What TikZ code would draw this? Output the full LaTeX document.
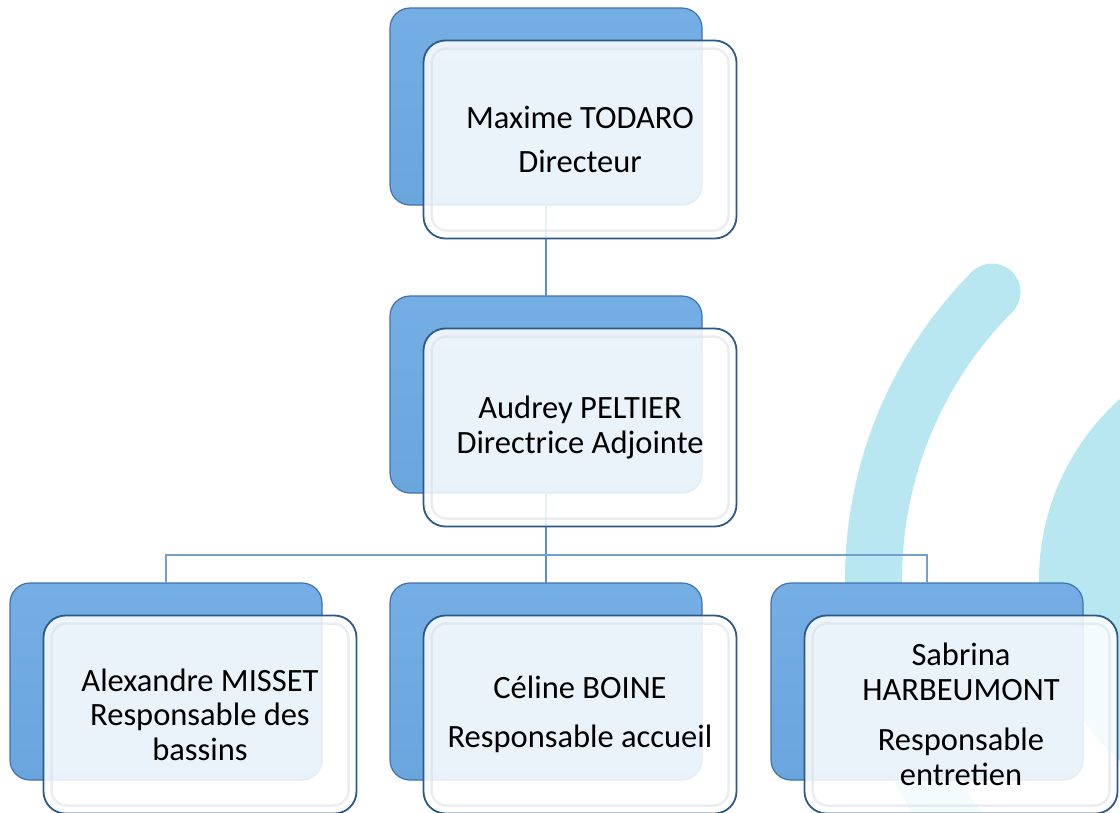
\documentclass[tikz,border=0pt]{standalone}
\usepackage{fontspec}
\setmainfont{Carlito}
\usepackage{tikz}

\definecolor{arcblue}{HTML}{B8E7F2}
\definecolor{backblue}{HTML}{6AA5DE}
\definecolor{backlight}{HTML}{74AEE4}
\definecolor{backedge}{HTML}{3F73AE}
\definecolor{frontedge}{HTML}{2D5986}
\definecolor{bevelgray}{HTML}{D3DAE2}
\definecolor{linkblue}{HTML}{5B8FC7}

\begin{document}
\begin{tikzpicture}[y=1pt, x=1pt, yscale=-1, xscale=1, inner sep=0pt, outer sep=0pt,
    backbox/.style={draw=backedge, line width=1.2pt, rounded corners=20pt,
      top color=backlight, bottom color=backblue,
      minimum width=312pt, minimum height=197pt},
    frontbox/.style={draw=frontedge, line width=1.8pt, fill=white, fill opacity=0.86,
      text opacity=1, rounded corners=22pt, minimum width=313pt, minimum height=198pt,
      align=center, font=\fontsize{32.5}{34.5}\selectfont},
    bevel/.style={draw=bevelgray, line width=2.5pt, rounded corners=15pt, draw opacity=0.45},
    link/.style={draw=linkblue, line width=2.2pt},
    buslink/.style={draw=linkblue!85, line width=1.6pt}]

  \useasboundingbox (0,0) rectangle (1120,812);

  % background arcs
  \begin{scope}
    \clip (0,0) rectangle (1120,812);
    \path[draw=arcblue, line width=57pt, line cap=round] (992,292) arc[start angle=224.8, end angle=140, radius=408];
    \path[fill=arcblue] (1282,580) circle[radius=243];
  \end{scope}

  % level one
  \node[backbox] (dirback) at (546,106.5) {};

  % level two
  \node[backbox] (adjback) at (546,394.5) {};

  % level three
  \node[backbox] (bassback) at (166,681.5) {};
  \node[backbox] (accback) at (546,681.5) {};
  \node[backbox] (entrback) at (927,681.5) {};

  % connectors
  \coordinate (bus) at (546,555);
  \path[link] (dirback.south) -- (adjback.north);
  \path[link] (adjback.south) -- (bus) -- (accback.north);
  \path[buslink] (bassback.north) |- (bus) -| (entrback.north);

  % front boxes
  \node[frontbox] (dir) at (580,139.5) {Maxime TODARO\\[10pt]Directeur};
  \node[frontbox] (adj) at (580,427.5) {Audrey PELTIER\\Directrice Adjointe};
  \node[frontbox] (bass) at (200,714.5) {Alexandre MISSET\\Responsable des\\bassins};
  \node[frontbox] (acc) at (580,714.5) {Céline BOINE\\[14pt]Responsable accueil};
  \node[frontbox] (entr) at (961,714.5) {Sabrina\\HARBEUMONT\\[16pt]Responsable\\entretien};

  % inner bevel
  \foreach \n in {dir,adj,bass,acc,entr}
    \path[bevel] ([shift={(8,8)}]\n.north west) rectangle ([shift={(-8,-8)}]\n.south east);

\end{tikzpicture}
\end{document}
